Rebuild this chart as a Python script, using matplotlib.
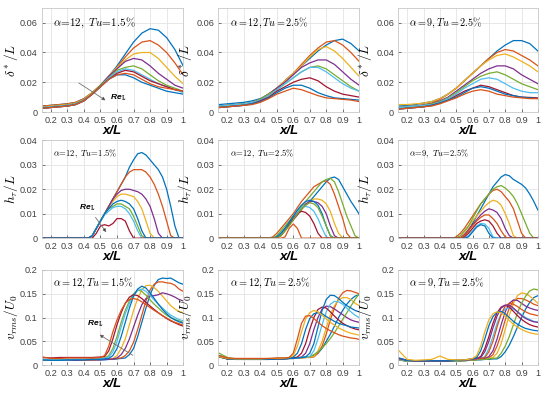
import numpy as np
import matplotlib.pyplot as plt

plt.rcParams['mathtext.fontset'] = 'cm'
plt.rcParams['font.family'] = ['Liberation Sans', 'DejaVu Sans']

# MATLAB default line colours
B, O, Y, P, G, C, R = '#0072BD', '#D95319', '#EDB120', '#7E2F8E', '#77AC30', '#4DBEEE', '#A2142F'

# ---- displacement thickness  delta*/L ----
x_d = [0.15, 0.2, 0.25, 0.3, 0.35, 0.4, 0.45, 0.5, 0.55, 0.6, 0.65, 0.7, 0.75, 0.8, 0.85, 0.9, 0.95, 1.0]

dstar_12_15 = [
    [0.004, 0.0045, 0.005, 0.0055, 0.0065, 0.009, 0.013, 0.018, 0.024, 0.031, 0.039, 0.047, 0.053, 0.056, 0.055, 0.050, 0.042, 0.031],
    [0.004, 0.0045, 0.005, 0.0055, 0.0065, 0.009, 0.013, 0.018, 0.024, 0.030, 0.037, 0.043, 0.047, 0.048, 0.045, 0.040, 0.033, 0.025],
    [0.0035, 0.004, 0.0045, 0.005, 0.006, 0.0085, 0.013, 0.018, 0.024, 0.030, 0.035, 0.039, 0.040, 0.040, 0.036, 0.030, 0.024, 0.019],
    [0.003, 0.0035, 0.004, 0.0045, 0.0055, 0.008, 0.012, 0.018, 0.024, 0.029, 0.034, 0.036, 0.035, 0.031, 0.026, 0.022, 0.018, 0.016],
    [0.003, 0.0035, 0.004, 0.0045, 0.0055, 0.008, 0.012, 0.018, 0.023, 0.028, 0.030, 0.031, 0.029, 0.025, 0.021, 0.018, 0.016, 0.014],
    [0.003, 0.0035, 0.004, 0.0045, 0.0055, 0.008, 0.012, 0.017, 0.023, 0.027, 0.029, 0.028, 0.025, 0.022, 0.019, 0.017, 0.015, 0.013],
    [0.0025, 0.003, 0.0035, 0.004, 0.005, 0.0075, 0.012, 0.017, 0.022, 0.026, 0.028, 0.027, 0.024, 0.021, 0.019, 0.017, 0.015, 0.014],
    [0.0025, 0.003, 0.0035, 0.004, 0.005, 0.0075, 0.012, 0.017, 0.022, 0.025, 0.025, 0.023, 0.020, 0.018, 0.016, 0.014, 0.013, 0.012],
    [0.0025, 0.003, 0.0035, 0.004, 0.005, 0.0075, 0.012, 0.017, 0.022, 0.025, 0.026, 0.025, 0.022, 0.019, 0.017, 0.016, 0.015, 0.014],
]
dstar_12_15_col = [B, O, Y, P, G, C, R, B, O]

dstar_12_25 = [
    [0.005, 0.0055, 0.006, 0.0065, 0.0075, 0.009, 0.012, 0.016, 0.021, 0.026, 0.031, 0.036, 0.041, 0.045, 0.048, 0.049, 0.046, 0.041],
    [0.004, 0.0045, 0.005, 0.0055, 0.0065, 0.0085, 0.012, 0.016, 0.021, 0.026, 0.032, 0.038, 0.043, 0.047, 0.048, 0.045, 0.040, 0.034],
    [0.004, 0.0045, 0.005, 0.0055, 0.0065, 0.0085, 0.012, 0.016, 0.021, 0.026, 0.031, 0.037, 0.042, 0.044, 0.041, 0.036, 0.030, 0.024],
    [0.004, 0.0045, 0.005, 0.0055, 0.0065, 0.0085, 0.012, 0.016, 0.020, 0.025, 0.030, 0.033, 0.035, 0.035, 0.032, 0.027, 0.022, 0.018],
    [0.004, 0.0045, 0.005, 0.0055, 0.0065, 0.0085, 0.012, 0.015, 0.019, 0.023, 0.027, 0.030, 0.031, 0.029, 0.025, 0.021, 0.017, 0.014],
    [0.004, 0.0045, 0.005, 0.0055, 0.0065, 0.008, 0.011, 0.015, 0.019, 0.023, 0.027, 0.030, 0.030, 0.027, 0.023, 0.019, 0.016, 0.014],
    [0.003, 0.0035, 0.004, 0.0045, 0.0055, 0.0075, 0.010, 0.014, 0.017, 0.020, 0.022, 0.023, 0.021, 0.017, 0.014, 0.012, 0.011, 0.010],
    [0.003, 0.0035, 0.004, 0.0045, 0.0055, 0.007, 0.0095, 0.013, 0.016, 0.018, 0.018, 0.016, 0.013, 0.011, 0.0095, 0.009, 0.0085, 0.008],
    [0.003, 0.0035, 0.004, 0.0045, 0.005, 0.0065, 0.009, 0.012, 0.014, 0.016, 0.015, 0.013, 0.011, 0.0095, 0.009, 0.0085, 0.008, 0.007],
]
dstar_12_25_col = [B, O, Y, P, G, C, R, B, O]

dstar_9_25 = [
    [0.004, 0.0045, 0.005, 0.006, 0.007, 0.009, 0.012, 0.016, 0.021, 0.026, 0.031, 0.036, 0.041, 0.045, 0.048, 0.048, 0.046, 0.041],
    [0.003, 0.0035, 0.004, 0.005, 0.006, 0.0085, 0.012, 0.016, 0.021, 0.026, 0.031, 0.036, 0.040, 0.042, 0.041, 0.038, 0.035, 0.031],
    [0.005, 0.005, 0.0055, 0.006, 0.007, 0.009, 0.012, 0.016, 0.021, 0.026, 0.031, 0.035, 0.038, 0.039, 0.037, 0.034, 0.031, 0.027],
    [0.003, 0.0035, 0.004, 0.0045, 0.0055, 0.0075, 0.010, 0.014, 0.018, 0.022, 0.026, 0.029, 0.031, 0.031, 0.029, 0.025, 0.022, 0.019],
    [0.003, 0.0035, 0.004, 0.0045, 0.0055, 0.007, 0.0095, 0.013, 0.017, 0.021, 0.024, 0.026, 0.027, 0.025, 0.022, 0.019, 0.017, 0.015],
    [0.003, 0.0035, 0.004, 0.0045, 0.005, 0.0065, 0.009, 0.012, 0.016, 0.019, 0.022, 0.023, 0.022, 0.019, 0.016, 0.014, 0.013, 0.013],
    [0.002, 0.0025, 0.003, 0.0035, 0.0045, 0.006, 0.008, 0.011, 0.014, 0.016, 0.018, 0.017, 0.015, 0.013, 0.011, 0.010, 0.0098, 0.0095],
    [0.002, 0.0025, 0.003, 0.0035, 0.0045, 0.006, 0.008, 0.010, 0.013, 0.016, 0.017, 0.016, 0.014, 0.012, 0.011, 0.010, 0.0095, 0.009],
    [0.002, 0.0025, 0.003, 0.0035, 0.004, 0.0055, 0.0075, 0.0095, 0.012, 0.014, 0.015, 0.014, 0.012, 0.011, 0.010, 0.0095, 0.009, 0.009],
]
dstar_9_25_col = [B, O, Y, P, G, C, R, B, O]

# ---- h_tau/L ----
x_h = [0.15, 0.4, 0.425, 0.45, 0.475, 0.5, 0.525, 0.55, 0.575, 0.6, 0.625, 0.65, 0.675, 0.7, 0.725,
       0.75, 0.775, 0.8, 0.825, 0.85, 0.875, 0.9, 0.925, 0.95, 0.975, 1.0]

h_12_15 = [
    [0, 0, 0, 0.001, 0.004, 0.007, 0.010, 0.013, 0.016, 0.019, 0.022, 0.025, 0.029, 0.032, 0.0345, 0.035, 0.034, 0.032, 0.030, 0.028, 0.025, 0.020, 0.013, 0.005, 0, 0],
    [0, 0, 0, 0.001, 0.004, 0.007, 0.010, 0.013, 0.016, 0.019, 0.022, 0.025, 0.027, 0.028, 0.028, 0.028, 0.027, 0.025, 0.022, 0.018, 0.013, 0.007, 0.001, 0, 0, 0],
    [0, 0, 0, 0.001, 0.004, 0.007, 0.010, 0.013, 0.015, 0.017, 0.018, 0.018, 0.0175, 0.017, 0.015, 0.012, 0.007, 0.002, 0, 0, 0, 0, 0, 0, 0, 0],
    [0, 0, 0, 0.001, 0.004, 0.007, 0.010, 0.013, 0.016, 0.018, 0.0195, 0.020, 0.020, 0.0195, 0.019, 0.018, 0.016, 0.013, 0.008, 0.002, 0, 0, 0, 0, 0, 0],
    [0, 0, 0, 0.001, 0.004, 0.007, 0.010, 0.012, 0.013, 0.014, 0.014, 0.013, 0.012, 0.009, 0.005, 0.001, 0, 0, 0, 0, 0, 0, 0, 0, 0, 0],
    [0, 0, 0, 0.001, 0.004, 0.007, 0.0095, 0.011, 0.0125, 0.013, 0.013, 0.012, 0.010, 0.007, 0.003, 0, 0, 0, 0, 0, 0, 0, 0, 0, 0, 0],
    [0, 0, 0, 0, 0.002, 0.005, 0.0055, 0.005, 0.006, 0.008, 0.008, 0.007, 0.003, 0, 0, 0, 0, 0, 0, 0, 0, 0, 0, 0, 0, 0],
    [0, 0, 0, 0.001, 0.004, 0.007, 0.010, 0.012, 0.014, 0.015, 0.0155, 0.015, 0.014, 0.012, 0.008, 0.003, 0, 0, 0, 0, 0, 0, 0, 0, 0, 0],
]
h_12_15_col = [B, O, Y, P, G, C, R, B]

h_12_25 = [
    [0, 0, 0, 0, 0, 0.0005, 0.002, 0.004, 0.006, 0.008, 0.010, 0.012, 0.0135, 0.015, 0.017, 0.019, 0.021, 0.023, 0.0245, 0.025, 0.024, 0.021, 0.018, 0.015, 0.0125, 0.0098],
    [0, 0, 0, 0, 0.0005, 0.002, 0.004, 0.006, 0.008, 0.010, 0.0125, 0.015, 0.017, 0.019, 0.021, 0.022, 0.023, 0.0235, 0.022, 0.018, 0.013, 0.008, 0.002, 0, 0, 0],
    [0, 0, 0, 0, 0, 0, 0.0015, 0.0035, 0.0055, 0.0075, 0.0095, 0.0115, 0.0135, 0.015, 0.016, 0.016, 0.0155, 0.014, 0.011, 0.006, 0.002, 0, 0, 0, 0, 0],
    [0, 0, 0, 0, 0, 0, 0.0015, 0.0035, 0.0055, 0.0075, 0.0095, 0.012, 0.014, 0.015, 0.015, 0.0145, 0.013, 0.010, 0.005, 0.001, 0, 0, 0, 0, 0, 0],
    [0, 0, 0, 0, 0, 0.001, 0.003, 0.005, 0.007, 0.009, 0.011, 0.013, 0.015, 0.017, 0.019, 0.021, 0.023, 0.024, 0.0245, 0.023, 0.019, 0.014, 0.009, 0.005, 0.001, 0],
    [0, 0, 0, 0, 0, 0, 0.0015, 0.0035, 0.006, 0.0085, 0.011, 0.0125, 0.013, 0.0125, 0.011, 0.008, 0.004, 0.0005, 0, 0, 0, 0, 0, 0, 0, 0],
    [0, 0, 0, 0, 0, 0, 0.001, 0.003, 0.0055, 0.008, 0.010, 0.011, 0.0105, 0.009, 0.006, 0.002, 0, 0, 0, 0, 0, 0, 0, 0, 0, 0],
    [0, 0, 0, 0, 0, 0.0005, 0.002, 0.004, 0.0065, 0.009, 0.0115, 0.0135, 0.015, 0.0155, 0.015, 0.0135, 0.010, 0.005, 0.001, 0, 0, 0, 0, 0, 0, 0],
    [0, 0, 0, 0, 0, 0, 0.001, 0.003, 0.005, 0.0075, 0.010, 0.012, 0.0135, 0.0145, 0.014, 0.0125, 0.009, 0.005, 0.001, 0, 0, 0, 0, 0, 0, 0],
    [0, 0, 0, 0, 0, 0, 0, 0.0005, 0.004, 0.0058, 0.004, 0, 0, 0, 0, 0, 0, 0, 0, 0, 0, 0, 0, 0, 0, 0],
]
h_12_25_col = [B, O, Y, P, G, C, R, B, G, O]

h_9_25 = [
    [0, 0, 0, 0, 0, 0, 0, 0.001, 0.003, 0.006, 0.009, 0.012, 0.015, 0.018, 0.021, 0.023, 0.025, 0.026, 0.0255, 0.024, 0.023, 0.022, 0.0205, 0.018, 0.015, 0.0115],
    [0, 0, 0, 0, 0, 0.0005, 0.002, 0.004, 0.0065, 0.009, 0.0115, 0.014, 0.016, 0.018, 0.0195, 0.020, 0.019, 0.017, 0.015, 0.012, 0.007, 0.002, 0, 0, 0, 0],
    [0, 0, 0, 0, 0, 0, 0.0005, 0.0025, 0.0045, 0.007, 0.009, 0.011, 0.013, 0.0145, 0.0155, 0.015, 0.0135, 0.010, 0.006, 0.001, 0, 0, 0, 0, 0, 0],
    [0, 0, 0, 0, 0, 0, 0, 0.0015, 0.0035, 0.0055, 0.0075, 0.0095, 0.011, 0.012, 0.0115, 0.0105, 0.008, 0.004, 0.001, 0, 0, 0, 0, 0, 0, 0],
    [0, 0, 0, 0, 0, 0, 0.001, 0.003, 0.005, 0.008, 0.011, 0.014, 0.016, 0.018, 0.020, 0.021, 0.0215, 0.0205, 0.019, 0.017, 0.014, 0.010, 0.006, 0.002, 0, 0],
    [0, 0, 0, 0, 0, 0, 0, 0, 0.001, 0.003, 0.005, 0.006, 0.0058, 0.004, 0.0005, 0, 0, 0, 0, 0, 0, 0, 0, 0, 0, 0],
    [0, 0, 0, 0, 0, 0, 0, 0.0005, 0.002, 0.004, 0.006, 0.007, 0.0075, 0.007, 0.005, 0.002, 0, 0, 0, 0, 0, 0, 0, 0, 0, 0],
    [0, 0, 0, 0, 0, 0, 0, 0, 0.0005, 0.0025, 0.0045, 0.0055, 0.005, 0.002, 0, 0, 0, 0, 0, 0, 0, 0, 0, 0, 0, 0],
    [0, 0, 0, 0, 0, 0, 0, 0.001, 0.003, 0.005, 0.007, 0.0085, 0.0095, 0.0095, 0.008, 0.006, 0.003, 0.0005, 0, 0, 0, 0, 0, 0, 0, 0],
]
h_9_25_col = [B, O, Y, P, G, C, R, B, O]

# ---- v_rms/U0 ----
x_v = [0.15, 0.2, 0.25, 0.3, 0.35, 0.4, 0.45, 0.5, 0.525, 0.55, 0.575, 0.6, 0.625, 0.65, 0.675, 0.7,
       0.725, 0.75, 0.775, 0.8, 0.825, 0.85, 0.875, 0.9, 0.925, 0.95, 0.975, 1.0]

v_12_15 = [
    [0.011, 0.01, 0.01, 0.01, 0.01, 0.01, 0.011, 0.011, 0.011, 0.012, 0.012, 0.013, 0.014, 0.015, 0.022, 0.035, 0.06, 0.09, 0.12, 0.148, 0.168, 0.18, 0.183, 0.182, 0.183, 0.178, 0.173, 0.17],
    [0.012, 0.011, 0.011, 0.011, 0.011, 0.011, 0.011, 0.012, 0.012, 0.012, 0.013, 0.014, 0.015, 0.02, 0.03, 0.048, 0.075, 0.105, 0.135, 0.158, 0.17, 0.175, 0.175, 0.173, 0.172, 0.168, 0.16, 0.155],
    [0.011, 0.01, 0.01, 0.01, 0.011, 0.011, 0.011, 0.012, 0.012, 0.013, 0.014, 0.02, 0.035, 0.055, 0.085, 0.115, 0.14, 0.158, 0.167, 0.168, 0.163, 0.155, 0.145, 0.135, 0.125, 0.118, 0.113, 0.11],
    [0.011, 0.01, 0.01, 0.01, 0.01, 0.011, 0.011, 0.011, 0.012, 0.012, 0.013, 0.015, 0.022, 0.035, 0.055, 0.08, 0.105, 0.127, 0.14, 0.145, 0.146, 0.148, 0.152, 0.15, 0.147, 0.143, 0.138, 0.135],
    [0.012, 0.011, 0.011, 0.012, 0.012, 0.012, 0.013, 0.014, 0.015, 0.02, 0.035, 0.06, 0.09, 0.115, 0.135, 0.15, 0.158, 0.155, 0.147, 0.137, 0.128, 0.12, 0.112, 0.105, 0.1, 0.096, 0.093, 0.09],
    [0.012, 0.011, 0.011, 0.011, 0.012, 0.012, 0.012, 0.013, 0.014, 0.017, 0.028, 0.05, 0.08, 0.108, 0.13, 0.147, 0.157, 0.16, 0.155, 0.146, 0.137, 0.128, 0.12, 0.112, 0.105, 0.1, 0.096, 0.093],
    [0.016, 0.015, 0.016, 0.016, 0.016, 0.016, 0.016, 0.017, 0.018, 0.03, 0.055, 0.085, 0.11, 0.13, 0.143, 0.148, 0.146, 0.14, 0.132, 0.124, 0.117, 0.11, 0.104, 0.098, 0.093, 0.089, 0.085, 0.082],
    [0.011, 0.01, 0.01, 0.011, 0.011, 0.011, 0.012, 0.012, 0.013, 0.014, 0.02, 0.035, 0.06, 0.09, 0.12, 0.145, 0.16, 0.166, 0.162, 0.152, 0.14, 0.128, 0.117, 0.108, 0.1, 0.095, 0.091, 0.088],
    [0.017, 0.014, 0.014, 0.015, 0.015, 0.015, 0.015, 0.016, 0.02, 0.04, 0.07, 0.095, 0.115, 0.13, 0.138, 0.14, 0.138, 0.133, 0.127, 0.121, 0.115, 0.11, 0.104, 0.099, 0.094, 0.09, 0.087, 0.084],
]
v_12_15_col = [B, O, Y, P, G, C, R, B, O]

v_12_25 = [
    [0.02, 0.014, 0.013, 0.013, 0.013, 0.013, 0.013, 0.014, 0.014, 0.014, 0.014, 0.015, 0.015, 0.016, 0.016, 0.017, 0.02, 0.025, 0.035, 0.05, 0.065, 0.082, 0.1, 0.115, 0.128, 0.138, 0.145, 0.148],
    [0.017, 0.013, 0.012, 0.012, 0.012, 0.012, 0.012, 0.013, 0.013, 0.013, 0.014, 0.014, 0.015, 0.015, 0.016, 0.016, 0.017, 0.025, 0.04, 0.065, 0.095, 0.12, 0.14, 0.152, 0.157, 0.156, 0.153, 0.15],
    [0.017, 0.013, 0.012, 0.012, 0.012, 0.012, 0.012, 0.013, 0.013, 0.013, 0.014, 0.014, 0.015, 0.015, 0.016, 0.017, 0.018, 0.03, 0.05, 0.078, 0.105, 0.125, 0.137, 0.142, 0.142, 0.138, 0.13, 0.125],
    [0.018, 0.013, 0.012, 0.012, 0.012, 0.012, 0.012, 0.013, 0.013, 0.013, 0.014, 0.014, 0.015, 0.017, 0.025, 0.045, 0.075, 0.1, 0.118, 0.124, 0.123, 0.118, 0.112, 0.106, 0.1, 0.095, 0.092, 0.09],
    [0.025, 0.016, 0.013, 0.013, 0.013, 0.013, 0.013, 0.014, 0.014, 0.014, 0.015, 0.015, 0.016, 0.016, 0.017, 0.018, 0.022, 0.028, 0.036, 0.045, 0.056, 0.068, 0.082, 0.096, 0.11, 0.124, 0.138, 0.15],
    [0.018, 0.013, 0.012, 0.012, 0.012, 0.012, 0.012, 0.013, 0.013, 0.013, 0.014, 0.014, 0.015, 0.016, 0.017, 0.018, 0.03, 0.055, 0.085, 0.112, 0.128, 0.134, 0.133, 0.128, 0.12, 0.112, 0.105, 0.1],
    [0.018, 0.013, 0.013, 0.012, 0.012, 0.012, 0.012, 0.013, 0.013, 0.014, 0.014, 0.015, 0.017, 0.025, 0.045, 0.075, 0.1, 0.117, 0.122, 0.12, 0.112, 0.103, 0.095, 0.088, 0.083, 0.079, 0.076, 0.074],
    [0.018, 0.013, 0.012, 0.012, 0.012, 0.012, 0.012, 0.013, 0.013, 0.013, 0.014, 0.014, 0.015, 0.016, 0.017, 0.025, 0.045, 0.08, 0.115, 0.138, 0.147, 0.146, 0.14, 0.132, 0.125, 0.12, 0.115, 0.112],
    [0.02, 0.014, 0.013, 0.013, 0.013, 0.013, 0.013, 0.014, 0.014, 0.014, 0.015, 0.017, 0.025, 0.045, 0.075, 0.098, 0.108, 0.11, 0.108, 0.102, 0.097, 0.092, 0.088, 0.085, 0.083, 0.08, 0.079, 0.078],
    [0.018, 0.014, 0.013, 0.013, 0.013, 0.013, 0.014, 0.014, 0.014, 0.015, 0.016, 0.02, 0.04, 0.07, 0.097, 0.11, 0.115, 0.112, 0.105, 0.097, 0.09, 0.084, 0.078, 0.074, 0.07, 0.067, 0.065, 0.063],
    [0.02, 0.015, 0.014, 0.014, 0.014, 0.014, 0.014, 0.015, 0.015, 0.015, 0.016, 0.025, 0.055, 0.088, 0.103, 0.104, 0.098, 0.09, 0.083, 0.077, 0.072, 0.068, 0.064, 0.061, 0.059, 0.057, 0.056, 0.054],
]
v_12_25_col = [B, O, Y, P, G, C, R, B, B, Y, O]

v_9_25 = [
    [0.011, 0.008, 0.008, 0.008, 0.008, 0.008, 0.008, 0.008, 0.009, 0.009, 0.01, 0.01, 0.011, 0.011, 0.012, 0.012, 0.013, 0.013, 0.018, 0.028, 0.042, 0.06, 0.08, 0.1, 0.118, 0.132, 0.142, 0.146],
    [0.012, 0.009, 0.008, 0.008, 0.008, 0.008, 0.009, 0.009, 0.009, 0.01, 0.01, 0.011, 0.012, 0.013, 0.014, 0.015, 0.022, 0.04, 0.065, 0.095, 0.12, 0.135, 0.14, 0.14, 0.137, 0.133, 0.128, 0.125],
    [0.012, 0.009, 0.008, 0.008, 0.008, 0.009, 0.009, 0.009, 0.009, 0.01, 0.01, 0.011, 0.012, 0.013, 0.013, 0.014, 0.016, 0.025, 0.045, 0.075, 0.105, 0.13, 0.146, 0.152, 0.15, 0.145, 0.138, 0.13],
    [0.012, 0.009, 0.008, 0.008, 0.008, 0.008, 0.009, 0.009, 0.009, 0.01, 0.01, 0.011, 0.012, 0.013, 0.014, 0.018, 0.03, 0.055, 0.085, 0.112, 0.13, 0.137, 0.136, 0.13, 0.124, 0.12, 0.117, 0.115],
    [0.011, 0.008, 0.008, 0.008, 0.008, 0.008, 0.008, 0.008, 0.009, 0.009, 0.01, 0.01, 0.011, 0.012, 0.012, 0.013, 0.014, 0.015, 0.025, 0.04, 0.06, 0.085, 0.11, 0.13, 0.145, 0.156, 0.16, 0.158],
    [0.012, 0.009, 0.008, 0.008, 0.008, 0.008, 0.009, 0.009, 0.01, 0.01, 0.011, 0.012, 0.013, 0.014, 0.018, 0.035, 0.06, 0.088, 0.108, 0.118, 0.12, 0.118, 0.112, 0.106, 0.1, 0.096, 0.092, 0.09],
    [0.014, 0.01, 0.009, 0.009, 0.009, 0.009, 0.009, 0.01, 0.01, 0.011, 0.012, 0.013, 0.014, 0.018, 0.035, 0.06, 0.088, 0.11, 0.122, 0.126, 0.122, 0.113, 0.104, 0.096, 0.09, 0.085, 0.082, 0.08],
    [0.013, 0.01, 0.009, 0.009, 0.009, 0.009, 0.009, 0.01, 0.01, 0.01, 0.011, 0.012, 0.013, 0.014, 0.016, 0.028, 0.05, 0.08, 0.107, 0.124, 0.13, 0.128, 0.123, 0.117, 0.112, 0.108, 0.106, 0.104],
    [0.014, 0.01, 0.009, 0.009, 0.009, 0.009, 0.009, 0.01, 0.01, 0.01, 0.011, 0.013, 0.014, 0.016, 0.028, 0.05, 0.078, 0.103, 0.12, 0.126, 0.126, 0.12, 0.112, 0.104, 0.098, 0.094, 0.091, 0.09],
    [0.015, 0.01, 0.009, 0.009, 0.009, 0.009, 0.009, 0.01, 0.01, 0.011, 0.012, 0.013, 0.016, 0.03, 0.055, 0.083, 0.102, 0.111, 0.113, 0.108, 0.1, 0.092, 0.086, 0.081, 0.077, 0.075, 0.073, 0.072],
    [0.03, 0.012, 0.01, 0.011, 0.012, 0.019, 0.012, 0.011, 0.011, 0.011, 0.012, 0.014, 0.02, 0.04, 0.07, 0.095, 0.108, 0.112, 0.11, 0.103, 0.094, 0.086, 0.08, 0.075, 0.071, 0.068, 0.066, 0.065],
]
v_9_25_col = [B, O, Y, P, G, C, R, O, P, B, Y]

titles = [
    [r'$\alpha\!=\!12,\ Tu\!=\!1.5\%$', r'$\alpha = 12, Tu = 2.5\%$', r'$\alpha = 9, Tu = 2.5\%$'],
    [r'$\alpha\!=\!12,\ Tu\!=\!1.5\%$', r'$\alpha\!=\!12,\ Tu\!=\!2.5\%$', r'$\alpha\!=\!9,\ Tu\!=\!2.5\%$'],
    [r'$\alpha = 12, Tu = 1.5\%$', r'$\alpha = 12, Tu = 2.5\%$', r'$\alpha = 9, Tu = 2.5\%$'],
]
title_size = [[8, 7.3, 7.3], [6.2, 6.2, 6.2], [7.5, 7.5, 7.5]]

panels = [
    [(x_d, dstar_12_15, dstar_12_15_col), (x_d, dstar_12_25, dstar_12_25_col), (x_d, dstar_9_25, dstar_9_25_col)],
    [(x_h, h_12_15, h_12_15_col), (x_h, h_12_25, h_12_25_col), (x_h, h_9_25, h_9_25_col)],
    [(x_v, v_12_15, v_12_15_col), (x_v, v_12_25, v_12_25_col), (x_v, v_9_25, v_9_25_col)],
]
ylabels = [r'$\delta^*/L$', r'$h_\tau/L$', r'$v_{rms}/U_0$']
ylims = [0.07, 0.04, 0.2]
yticks = [[0, 0.02, 0.04, 0.06], [0, 0.01, 0.02, 0.03, 0.04], [0, 0.05, 0.1, 0.15, 0.2]]
yticklabels = [['0', '0.02', '0.04', '0.06'], ['0', '0.01', '0.02', '0.03', '0.04'],
               ['0', '0.05', '0.1', '0.15', '0.2']]
xticks = [0.2, 0.3, 0.4, 0.5, 0.6, 0.7, 0.8, 0.9, 1.0]
xticklabels = ['0.2', '0.3', '0.4', '0.5', '0.6', '0.7', '0.8', '0.9', '1']

col_pos = [(0.076, 0.257), (0.397, 0.256), (0.724, 0.254)]
row_pos = [(0.715, 0.265), (0.394, 0.249), (0.071, 0.242)]
ylab_x = [-0.155, -0.175, -0.175]

fig = plt.figure(figsize=(5.5, 3.93), dpi=100)
axes = []
for r in range(3):
    row = []
    for c in range(3):
        ax = fig.add_axes([col_pos[c][0], row_pos[r][0], col_pos[c][1], row_pos[r][1]])
        x, curves, cols = panels[r][c]
        for y, col in zip(curves, cols):
            ax.plot(x, y, color=col, lw=0.9)
        ax.set_xlim(0.145, 1.0)
        ax.set_ylim(0, ylims[r])
        ax.set_xticks(xticks)
        ax.set_xticklabels(xticklabels)
        ax.set_yticks(yticks[r])
        ax.set_yticklabels(yticklabels[r])
        ax.grid(True, color='#e3e3e3', lw=0.6)
        ax.set_axisbelow(True)
        ax.tick_params(direction='in', length=2, width=0.5, labelsize=6.6, colors='#404040', pad=3)
        for s in ax.spines.values():
            s.set_color('#c8c8c8')
            s.set_linewidth(0.6)
        ax.set_ylabel(ylabels[r], fontsize=9.5)
        ax.yaxis.set_label_coords(ylab_x[c], 0.5)
        ax.set_xlabel('x/L', fontsize=9.5, fontweight='bold', style='italic', labelpad=0)
        ax.text(0.08, 0.86, titles[r][c], transform=ax.transAxes, fontsize=title_size[r][c], va='center')
        row.append(ax)
    axes.append(row)

arrow = dict(arrowstyle='-|>', color='#909090', lw=0.6, mutation_scale=5, fc='black', ec='#707070')
lbl = dict(fontsize=6, fontweight='bold', style='italic')

a = axes[0][0]
a.annotate('', xy=(0.545, 0.0068), xytext=(0.355, 0.0205), arrowprops=arrow)
a.text(0.56, 0.0085, 'Re$_{\\mathbf{L}}$', **lbl)

a = axes[1][0]
a.annotate('', xy=(0.545, 0.0015), xytext=(0.46, 0.0094), arrowprops=arrow)
a.text(0.37, 0.0115, 'Re$_{\\mathbf{L}}$', **lbl)

a = axes[2][0]
a.annotate('', xy=(0.48, 0.067), xytext=(0.71, 0.0175), arrowprops=arrow)
a.text(0.42, 0.083, 'Re$_{\\mathbf{L}}$', **lbl)

fig.savefig('out.png', dpi=100)
